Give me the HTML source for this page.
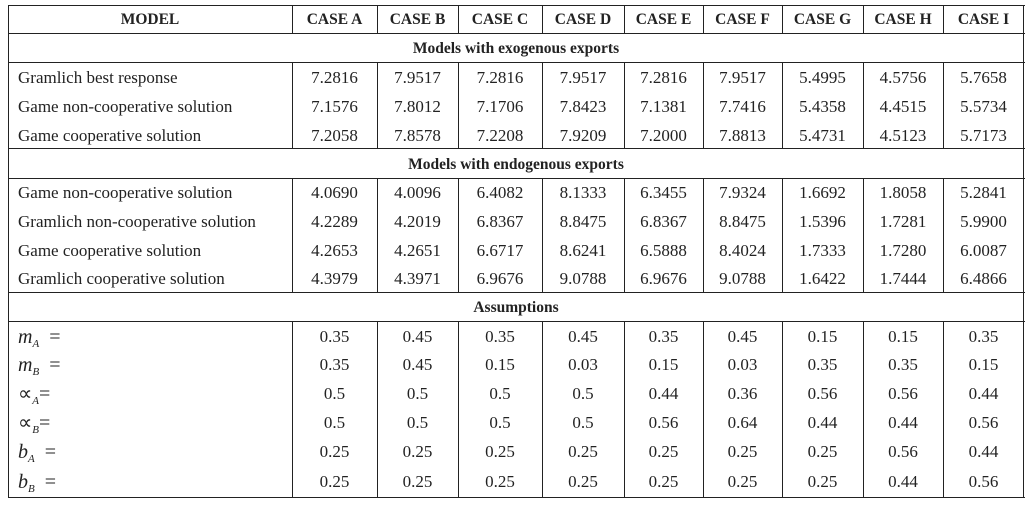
<!DOCTYPE html>
<html><head><meta charset="utf-8"><style>
body{margin:0;width:1031px;height:507px;background:#fff;position:relative;overflow:hidden;font-family:"Liberation Serif",serif;color:#222}
.l{position:absolute;background:#222}
.t{position:absolute;font-size:17px;line-height:20px;white-space:nowrap}
.c{text-align:center}
.h{font-weight:bold;font-size:15.5px}
.a{font-size:20px}
sub{font-size:11px;vertical-align:-4px}
</style></head><body>
<div id="tbl"></div>
<script>
const cases=["CASE A","CASE B","CASE C","CASE D","CASE E","CASE F","CASE G","CASE H","CASE I"];
const exoLabels=["Gramlich best response","Game non-cooperative solution","Game cooperative solution"];
const exoVals=[
["7.2816","7.9517","7.2816","7.9517","7.2816","7.9517","5.4995","4.5756","5.7658"],
["7.1576","7.8012","7.1706","7.8423","7.1381","7.7416","5.4358","4.4515","5.5734"],
["7.2058","7.8578","7.2208","7.9209","7.2000","7.8813","5.4731","4.5123","5.7173"]];
const endoLabels=["Game non-cooperative solution","Gramlich non-cooperative solution","Game cooperative solution","Gramlich cooperative solution"];
const endoVals=[
["4.0690","4.0096","6.4082","8.1333","6.3455","7.9324","1.6692","1.8058","5.2841"],
["4.2289","4.2019","6.8367","8.8475","6.8367","8.8475","1.5396","1.7281","5.9900"],
["4.2653","4.2651","6.6717","8.6241","6.5888","8.4024","1.7333","1.7280","6.0087"],
["4.3979","4.3971","6.9676","9.0788","6.9676","9.0788","1.6422","1.7444","6.4866"]];
const asmLabels=['<i>m</i><sub><i>A</i></sub> &nbsp;=','<i>m</i><sub><i>B</i></sub> &nbsp;=','∝<sub><i>A</i></sub>=','∝<sub><i>B</i></sub>=','<i>b</i><sub><i>A</i></sub> &nbsp;=','<i>b</i><sub><i>B</i></sub> &nbsp;='];
const asmVals=[
["0.35","0.45","0.35","0.45","0.35","0.45","0.15","0.15","0.35"],
["0.35","0.45","0.15","0.03","0.15","0.03","0.35","0.35","0.15"],
["0.5","0.5","0.5","0.5","0.44","0.36","0.56","0.56","0.44"],
["0.5","0.5","0.5","0.5","0.56","0.64","0.44","0.44","0.56"],
["0.25","0.25","0.25","0.25","0.25","0.25","0.25","0.56","0.44"],
["0.25","0.25","0.25","0.25","0.25","0.25","0.25","0.44","0.56"]];
const X=[8,292,377,458,542,624,703,782,863,943,1024];
const T=document.getElementById('tbl');
function line(x,y,w,h){const d=document.createElement('div');d.className='l';


d.style.cssText=`left:${x}px;top:${y}px;width:${w}px;height:${h}px`;T.appendChild(d);}
function txt(html,x,cy,w,cls,name){const d=document.createElement('div');d.className='t '+cls;


d.innerHTML=html;d.style.left=x+'px';d.style.top=(cy-9)+'px';if(w)d.style.width=w+'px';T.appendChild(d);}
[5,33,62,148,178,292,321,497].forEach(y=>line(8,y,1017,1.3));
line(8,5,1.3,493);line(1023,5,1.3,493);
[[5,33],[62,148],[178,292],[321,497]].forEach(([a,b])=>{for(let i=1;i<X.length-1;i++)line(X[i],a,1.3,b-a);});
txt('MODEL',X[0],19,X[1]-X[0],'c h','header-model');
cases.forEach((c,i)=>txt(c,X[i+1],19,X[i+2]-X[i+1],'c h','header-case'));
txt('Models with exogenous exports',8,48,1016,'c h','section-exogenous');
txt('Models with endogenous exports',8,164,1016,'c h','section-endogenous');
txt('Assumptions',8,307,1016,'c h','section-assumptions');
function block(labels,vals,ys,cls){labels.forEach((lab,r)=>{txt(lab,18,ys[r],0,cls,'row-label');
vals[r].forEach((v,i)=>txt(v,X[i+1],ys[r],X[i+2]-X[i+1],'c','cell-value'));});}
block(exoLabels,exoVals,[77,106,135],'');
block(endoLabels,endoVals,[192,221,250,278],'');
block(asmLabels,asmVals,[336,364,393,422,451,481],'a');
</script>
</body></html>
